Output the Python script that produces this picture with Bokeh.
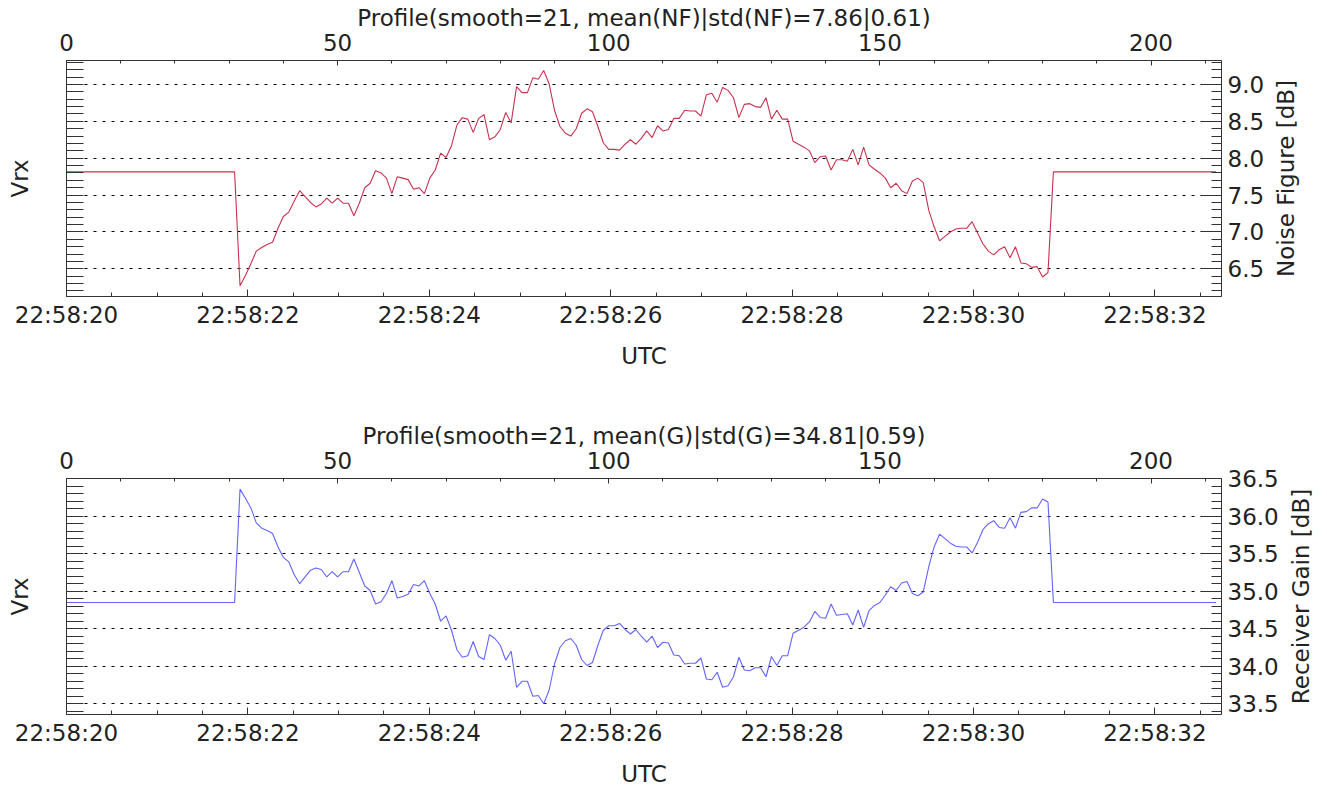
from bokeh.plotting import figure
from bokeh.models import LinearAxis, Range1d, FixedTicker, Grid, NumeralTickFormatter
from bokeh.layouts import column, row
from bokeh.embed import file_html
from bokeh.resources import INLINE

# ---------------- data ----------------
n_samples = 213
sample_index = list(range(n_samples))

nf_flat = 7.815
nf_db = ([nf_flat] * 32 + [
    6.27, 6.41, 6.57, 6.74, 6.79, 6.83, 6.86, 7.05, 7.21, 7.27,
    7.42, 7.56, 7.48, 7.40, 7.34, 7.38, 7.46, 7.39, 7.46, 7.39,
    7.39, 7.22, 7.39, 7.60, 7.66, 7.83, 7.80, 7.73, 7.52, 7.75,
    7.73, 7.71, 7.58, 7.60, 7.52, 7.73, 7.84, 8.07, 8.01, 8.17,
    8.45, 8.55, 8.53, 8.35, 8.54, 8.59, 8.25, 8.29, 8.39, 8.62,
    8.48, 8.97, 8.89, 8.89, 9.09, 9.07,
    9.19, 9.01, 8.65, 8.43, 8.34, 8.30, 8.40, 8.61, 8.67, 8.63,
    8.43, 8.21, 8.12, 8.12, 8.11, 8.19, 8.25, 8.19, 8.27, 8.37,
    8.28, 8.44, 8.37, 8.39, 8.54, 8.54, 8.65, 8.64, 8.64, 8.57,
    8.86, 8.88, 8.76, 8.96, 8.92, 8.82, 8.55, 8.73, 8.74, 8.70,
    8.69, 8.82, 8.53, 8.65, 8.53, 8.53, 8.23, 8.19, 8.15, 8.10,
    7.94, 8.02, 8.03, 7.84, 7.98, 7.98, 7.96, 8.12, 7.91,
    8.15, 7.91, 7.85, 7.80, 7.73, 7.60, 7.66, 7.56, 7.52, 7.69,
    7.73, 7.67, 7.30, 7.07, 6.88, 6.94, 7.00, 7.04, 7.05, 7.05,
    7.14, 6.99, 6.84, 6.74, 6.69, 6.76, 6.80, 6.65, 6.80, 6.58,
    6.57, 6.52, 6.53, 6.39, 6.45,
] + [nf_flat] * 31)

gain_flat = 34.85
gain_db = ([gain_flat] * 32 + [
    36.36, 36.24, 36.11, 35.91, 35.84, 35.81, 35.77, 35.59, 35.45, 35.39,
    35.22, 35.10, 35.19, 35.28, 35.31, 35.29, 35.19, 35.26, 35.19, 35.26,
    35.26, 35.43, 35.25, 35.07, 35.01, 34.83, 34.86, 34.97, 35.14, 34.91,
    34.93, 34.96, 35.09, 35.07, 35.14, 34.97, 34.83, 34.60, 34.67, 34.48,
    34.22, 34.12, 34.14, 34.33, 34.13, 34.09, 34.42, 34.37, 34.28, 34.08,
    34.20, 33.72, 33.80, 33.80, 33.60, 33.61, 33.50, 33.68, 34.03, 34.25,
    34.34, 34.37, 34.28, 34.09, 34.01, 34.05, 34.28, 34.48, 34.54, 34.54,
    34.57, 34.49, 34.43, 34.49, 34.40, 34.32, 34.40, 34.25,
    34.32, 34.31, 34.15, 34.14, 34.03, 34.04, 34.04, 34.11, 33.83, 33.82,
    33.92, 33.72, 33.74, 33.86, 34.12, 33.95, 33.94, 33.98, 33.98, 33.86,
    34.13, 34.01, 34.14, 34.14, 34.44, 34.48, 34.52, 34.59, 34.73, 34.65,
    34.64, 34.83, 34.68, 34.69, 34.70, 34.55, 34.75, 34.52, 34.74, 34.81,
    34.85, 34.95, 35.06, 35.01, 35.11, 35.13, 34.97, 34.94, 34.99, 35.32,
    35.59, 35.76, 35.70, 35.64, 35.60, 35.59, 35.59, 35.51, 35.65, 35.82,
    35.90, 35.94, 35.85, 35.84, 35.98, 35.84, 36.05, 36.06, 36.11, 36.11,
    36.23, 36.19,
] + [gain_flat] * 31)

index_ticks = [0, 50, 100, 150, 200]
index_minor = list(range(0, 214, 10))
utc_seconds = [0, 2, 4, 6, 8, 10, 12]
utc_labels = ["22:58:20", "22:58:22", "22:58:24", "22:58:26",
              "22:58:28", "22:58:30", "22:58:32"]
utc_minor = [0.5 * k for k in range(26)]
nf_ticks = [6.5, 7.0, 7.5, 8.0, 8.5, 9.0]
nf_minor = [round(6.2 + 0.1 * k, 1) for k in range(32)]
gain_ticks = [33.5, 34.0, 34.5, 35.0, 35.5, 36.0, 36.5]
gain_minor = [round(33.4 + 0.1 * k, 1) for k in range(32)]

nf_title = "Profile(smooth=21, mean(NF)|std(NF)=7.86|0.61)"
gain_title = "Profile(smooth=21, mean(G)|std(G)=34.81|0.59)"

FONT = "DejaVu Sans"
FS = "23px"
TXT = "#222222"
AX = "#333333"
TOTAL_W = 1319


def style_axis(ax):
    ax.axis_line_color = AX
    ax.axis_line_width = 1
    ax.major_tick_line_color = AX
    ax.minor_tick_line_color = AX
    ax.major_tick_out = 0
    ax.minor_tick_out = 0
    ax.major_label_text_font = FONT
    ax.major_label_text_font_size = FS
    ax.major_label_text_color = TXT
    ax.axis_label_text_font = FONT
    ax.axis_label_text_font_size = FS
    ax.axis_label_text_font_style = "normal"
    ax.axis_label_text_color = TXT


def panel(values, color, y0, y1, majors, minors, title, right_label,
          main_w, height, b_top, b_bottom):
    p = figure(width=main_w, height=height, output_backend="svg",
               toolbar_location=None, title=title,
               x_range=Range1d(0, 213.0), y_range=Range1d(y0, y1),
               x_axis_location=None, y_axis_location=None,
               min_border_left=66, min_border_right=main_w - 1221,
               min_border_top=b_top, min_border_bottom=b_bottom)
    p.extra_x_ranges = {"t": Range1d(0, 12.734)}
    p.outline_line_color = None
    p.grid.visible = False

    p.title.align = "center"
    p.title.text_font = FONT
    p.title.text_font_size = FS
    p.title.text_font_style = "normal"
    p.title.text_color = TXT
    p.title.standoff = 0

    p.add_layout(Grid(dimension=1, ticker=FixedTicker(ticks=majors),
                      grid_line_color="black", grid_line_dash="3 6",
                      grid_line_width=1))

    p.line(sample_index, values, line_color=color, line_width=1.1)

    top = LinearAxis(ticker=FixedTicker(ticks=index_ticks, minor_ticks=index_minor))
    style_axis(top)
    top.major_tick_in = 5
    top.minor_tick_in = 3
    top.major_label_standoff = 10
    p.add_layout(top, "above")

    bottom = LinearAxis(x_range_name="t",
                        ticker=FixedTicker(ticks=utc_seconds, minor_ticks=utc_minor),
                        major_label_overrides={float(s): l for s, l in zip(utc_seconds, utc_labels)},
                        axis_label="UTC")
    style_axis(bottom)
    bottom.major_tick_in = 7
    bottom.minor_tick_in = 4
    bottom.major_label_standoff = 5
    bottom.axis_label_standoff = 12
    p.add_layout(bottom, "below")

    right = LinearAxis(ticker=FixedTicker(ticks=majors, minor_ticks=minors),
                       formatter=NumeralTickFormatter(format="0.0"))
    style_axis(right)
    right.major_tick_in = 20
    right.minor_tick_in = 10
    right.major_label_standoff = 6
    p.add_layout(right, "right")

    left = LinearAxis(ticker=FixedTicker(ticks=minors, minor_ticks=[]),
                      axis_label="Vrx")
    style_axis(left)
    left.major_label_text_font_size = "1px"
    left.major_label_text_color = None
    left.major_tick_in = 17
    left.axis_label_standoff = 34
    p.add_layout(left, "left")

    # narrow strip carrying the right-hand axis title, reading bottom-to-top
    s = figure(width=TOTAL_W - main_w, height=height, output_backend="svg",
               toolbar_location=None, title=right_label, title_location="left",
               x_range=Range1d(0, 1), y_range=Range1d(0, 1),
               x_axis_location=None, y_axis_location=None,
               min_border_left=0, min_border_right=0,
               min_border_top=b_top, min_border_bottom=b_bottom)
    s.outline_line_color = None
    s.grid.visible = False
    s.title.align = "center"
    s.title.text_font = FONT
    s.title.text_font_size = FS
    s.title.text_font_style = "normal"
    s.title.text_color = TXT
    s.title.standoff = 0
    s.title.offset = 0
    s.line([0, 1], [0, 0], line_alpha=0)
    return row(p, s, spacing=0)


r1 = panel(nf_db, "#c8324f", 6.125, 9.325, nf_ticks, nf_minor, nf_title,
           "Noise Figure [dB]", 1270, 418, 60, 122)
r2 = panel(gain_db, "#6464ff", 33.357, 36.502, gain_ticks, gain_minor, gain_title,
           "Receiver Gain [dB]", 1285, 373, 60, 77)

layout = column(r1, r2, spacing=0)
open("out.html", "w").write(file_html(layout, INLINE))
